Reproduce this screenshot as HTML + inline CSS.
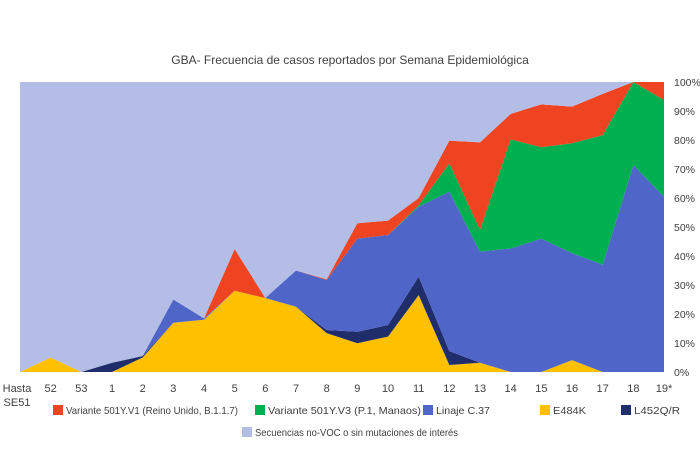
<!DOCTYPE html>
<html><head><meta charset="utf-8"><style>
body{margin:0;background:#fff;font-family:"Liberation Sans",sans-serif}
svg text{font-family:"Liberation Sans",sans-serif;fill:#404040}
</style></head><body>
<svg id="c" width="700" height="461">
<text x="350" y="64" text-anchor="middle" font-size="12">GBA- Frecuencia de casos reportados por Semana Epidemiológica</text>
<g id="areas"></g><g id="yt"></g><g id="xt"></g><g id="leg"></g>
</svg>
<script>
const categories=["Hasta SE51","52","53","1","2","3","4","5","6","7","8","9","10","11","12","13","14","15","16","17","18","19*"];
const e484k=[0,5,0,0,5,17,18,28,25.5,22.5,13.4,9.9,12.2,26.5,2.4,3.2,0,0,4.1,0,0,0];
const l452=[0,0,0,3.2,0.5,0,0,0,0,0,1.1,4,4,6.4,4.8,0,0,0,0,0,0,0];
const c37=[0,0,0,0,0,8,0.5,0,0,12.5,17.2,32.1,31,24.1,55,38.3,42.6,46,36.9,37,71.4,60.4];
const p1=[0,0,0,0,0,0,0,0,0,0,0,0,0,0.5,9.8,7.5,37.6,31.5,37.9,44.7,28.6,33.4];
const b117=[0,0,0,0,0,0,0,14.4,0,0,0.3,5.3,5,2.5,7.8,30.2,8.8,14.8,12.6,14.2,0,6.2];
const yTicks=[0,10,20,30,40,50,60,70,80,90,100];
const NS="http://www.w3.org/2000/svg";
const x0=20,x1=664,yb=372,yt=82;
const xs=i=>x0+i*(x1-x0)/(categories.length-1);
const ys=v=>yb-v*(yb-yt)/100;
const series=[
 {n:"E484K",d:e484k,c:"#ffc000",k:"area-e484k"},
 {n:"L452Q/R",d:l452,c:"#1f2d6b",k:"area-l452qr"},
 {n:"Linaje C.37",d:c37,c:"#4f66c8",k:"area-c37"},
 {n:"Variante 501Y.V3 (P.1, Manaos)",d:p1,c:"#00b050",k:"area-p1"},
 {n:"Variante 501Y.V1 (Reino Unido, B.1.1.7)",d:b117,c:"#ee4422",k:"area-b117"}
];
const others=categories.map((_,i)=>100-series.reduce((s,se)=>s+se.d[i],0));
series.push({n:"Secuencias no-VOC o sin mutaciones de interés",d:others,c:"#b4bde6",k:"area-no-voc"});
const g=document.getElementById('areas');
let cum=categories.map(()=>0);
series.forEach(se=>{
 const lo=cum.slice(),hi=cum.map((v,i)=>v+se.d[i]);
 let pts=hi.map((v,i)=>xs(i)+","+ys(v));
 for(let i=lo.length-1;i>=0;i--)pts.push(xs(i)+","+ys(lo[i]));
 const p=document.createElementNS(NS,'polygon');
 p.setAttribute('points',pts.join(' '));p.setAttribute('fill',se.c);
 
 
 g.appendChild(p);cum=hi;
});
const ygr=document.getElementById('yt');
yTicks.forEach(t=>{
 const e=document.createElementNS(NS,'text');
 e.setAttribute('x',674);e.setAttribute('y',ys(t)+4);e.setAttribute('font-size','10.5');
 e.textContent=t+"%";
 
 
 ygr.appendChild(e);
});
const xg=document.getElementById('xt');
categories.forEach((c,i)=>{
 const e=document.createElementNS(NS,'text');
 e.setAttribute('x',xs(i)-(i==0?3:0));e.setAttribute('y',392);e.setAttribute('font-size','11');e.setAttribute('text-anchor','middle');
 
 
 if(i==0){e.innerHTML='<tspan x="'+(xs(0)-3)+'">Hasta</tspan><tspan x="'+(xs(0)-3)+'" dy="14">SE51</tspan>';}
 else e.textContent=c;
 xg.appendChild(e);
});
const lg=document.getElementById('leg');
const legPos=[[4,53,414,172],[3,255,414,153],[2,423,414,54],[0,540,414,33],[1,621,414,46],[5,242,436,203]];
legPos.forEach(([si,lx,ly,tl])=>{
 const se=series[si];
 const gg=document.createElementNS(NS,'g');
 
 
 const r=document.createElementNS(NS,'rect');
 r.setAttribute('x',lx);r.setAttribute('y',ly-9);r.setAttribute('width',10);r.setAttribute('height',10);r.setAttribute('fill',se.c);
 const t=document.createElementNS(NS,'text');
 t.setAttribute('x',lx+13);t.setAttribute('y',ly);t.setAttribute('font-size','10.5');
 t.setAttribute('textLength',tl);t.setAttribute('lengthAdjust','spacingAndGlyphs');
 t.textContent=se.n;
 gg.appendChild(r);gg.appendChild(t);lg.appendChild(gg);
});
</script>
</body></html>
